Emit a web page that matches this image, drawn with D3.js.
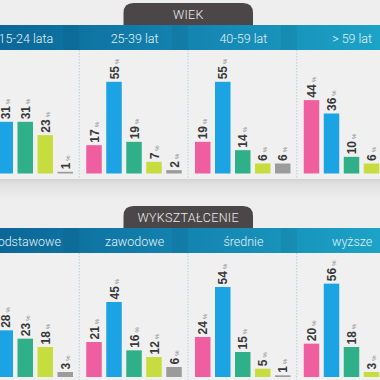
<!DOCTYPE html>
<html>
<head>
<meta charset="utf-8">
<script src="https://cdn.jsdelivr.net/npm/d3@7"></script>
<style>
  html, body { margin: 0; padding: 0; background: #eeeeee; }
  svg { display: block; }
</style>
</head>
<body>
<script>
// ---- data ----
const sectionTitles = ["WIEK", "WYKSZTAŁCENIE"];
const ageGroups = ["15-24 lata", "25-39 lat", "40-59 lat", "> 59 lat"];
const ageValues = [
  [14, 31, 31, 23, 1],
  [17, 55, 19, 7, 2],
  [19, 55, 14, 6, 6],
  [44, 36, 10, 6, 4]
];
const eduGroups = ["podstawowe", "zawodowe", "średnie", "wyższe"];
const eduValues = [
  [28, 28, 23, 18, 3],
  [21, 45, 16, 12, 6],
  [24, 54, 15, 5, 1],
  [20, 56, 18, 3, 3]
];
const seriesIdx = [0, 1, 2, 3, 4];
const seriesColors = ["#ef5f9f", "#1ba3e4", "#2fb088", "#c7dc3e", "#9b9b9b"];

// ---- layout ----
const W = 380, H = 380;
const svg = d3.select("body").append("svg").attr("width", W).attr("height", H);
const defs = svg.append("defs");

const band = defs.append("linearGradient").attr("id", "bandGrad")
  .attr("gradientUnits", "userSpaceOnUse").attr("x1", 0).attr("x2", W).attr("y1", 0).attr("y2", 0);
band.append("stop").attr("offset", "0").attr("stop-color", "#0b6797");
band.append("stop").attr("offset", "0.5").attr("stop-color", "#1484b0");
band.append("stop").attr("offset", "1").attr("stop-color", "#1ca3c6");

const shadow = defs.append("linearGradient").attr("id", "shadowGrad")
  .attr("x1", 0).attr("x2", 0).attr("y1", 0).attr("y2", 1);
shadow.append("stop").attr("offset", "0").attr("stop-color", "#d3d3d3");
shadow.append("stop").attr("offset", "0.25").attr("stop-color", "#e2e2e2");
shadow.append("stop").attr("offset", "1").attr("stop-color", "#efefef");

svg.append("rect").attr("width", W).attr("height", H).attr("fill", "#eeeeee");

const xPanel = d3.scaleBand().domain([0, 1, 2, 3]).range([-29.5, 405.5]).padding(0);
const xBar = d3.scaleBand().domain(seriesIdx).range([7, 102.5]).paddingInner(0.225).paddingOuter(0);
const pxPerPct = 1.667;

function drawSection(cfg) {
  const g = svg.append("g");
  const { title, groups, values, tabTop, bandTop, baseline } = cfg;
  const bandH = 25;
  const y = d3.scaleLinear().domain([0, 100]).range([baseline, baseline - 100 * pxPerPct]);

  // panel area
  g.append("rect").attr("x", 0).attr("y", bandTop + bandH).attr("width", W)
    .attr("height", baseline + 5 - (bandTop + bandH)).attr("fill", "#f0f0f0");
  // shadow under panel area
  g.append("rect").attr("x", 0).attr("y", baseline + 5.5).attr("width", W).attr("height", 22)
    .attr("fill", "url(#shadowGrad)");

  // tab
  const tx0 = 123.5, tx1 = 253, r = 10, ty0 = tabTop, ty1 = bandTop + 1;
  g.append("path")
    .attr("d", `M${tx0},${ty1} L${tx0},${ty0 + r} Q${tx0},${ty0} ${tx0 + r},${ty0} L${tx1 - r},${ty0} Q${tx1},${ty0} ${tx1},${ty0 + r} L${tx1},${ty1} Z`)
    .attr("fill", "#4b4748");
  g.append("text").attr("x", (tx0 + tx1) / 2).attr("y", (ty0 + bandTop) / 2 + 0.5)
    .attr("text-anchor", "middle").attr("dominant-baseline", "central")
    .attr("font-family", "Roboto, 'Open Sans', sans-serif").attr("font-size", 12.5)
    .attr("font-weight", 300).attr("letter-spacing", 0.3)
    .attr("fill", "#ececec").text(title);

  // header band
  g.append("rect").attr("x", 0).attr("y", bandTop).attr("width", W).attr("height", bandH)
    .attr("fill", "url(#bandGrad)");

  const panels = g.selectAll("g.panel").data(groups).join("g")
    .attr("class", "panel")
    .attr("transform", (d, i) => `translate(${xPanel(i)},0)`);

  // subtle header separation
  panels.append("rect").attr("x", xPanel.bandwidth() - 16).attr("y", bandTop)
    .attr("width", 16).attr("height", bandH).attr("fill", "rgba(0,0,0,0.05)");

  panels.append("text")
    .attr("x", xPanel.bandwidth() / 2 + 1).attr("y", bandTop + bandH / 2 + 1)
    .attr("text-anchor", "middle").attr("dominant-baseline", "central")
    .attr("font-family", "Roboto, 'Open Sans', sans-serif").attr("font-size", 12.5)
    .attr("font-weight", 300)
    .attr("fill", "#e4f2f8").text(d => d);

  // dashed dividers
  panels.append("line")
    .attr("x1", xPanel.bandwidth()).attr("x2", xPanel.bandwidth())
    .attr("y1", bandTop + bandH).attr("y2", baseline + 4)
    .attr("stroke", "#b7d0de").attr("stroke-width", 1).attr("stroke-dasharray", "1.5,1.5");

  // bars
  const bars = panels.selectAll("g.bar").data((d, i) => values[i].map((v, j) => ({ v, j })))
    .join("g").attr("class", "bar");
  bars.append("rect")
    .attr("x", d => xBar(d.j)).attr("width", xBar.bandwidth())
    .attr("y", d => y(d.v)).attr("height", d => baseline - y(d.v))
    .attr("fill", d => seriesColors[d.j]);

  const lbl = bars.append("text")
    .attr("transform", d => `translate(${xBar(d.j) + xBar.bandwidth() / 2 + 4.5},${y(d.v) - 2.5}) rotate(-90)`)
    .attr("text-anchor", "start")
    .attr("font-family", "'Liberation Sans', Arial, sans-serif");
  lbl.append("tspan").attr("font-size", 12).attr("font-weight", "bold").attr("fill", "#383838")
    .text(d => d.v);
  lbl.append("tspan").attr("dx", 2).attr("font-size", 6).attr("fill", "#808080").text("%");
}

drawSection({ title: sectionTitles[0], groups: ageGroups, values: ageValues, tabTop: 3, bandTop: 25, baseline: 173.5 });
drawSection({ title: sectionTitles[1], groups: eduGroups, values: eduValues, tabTop: 206, bandTop: 228, baseline: 377 });
</script>
</body>
</html>
